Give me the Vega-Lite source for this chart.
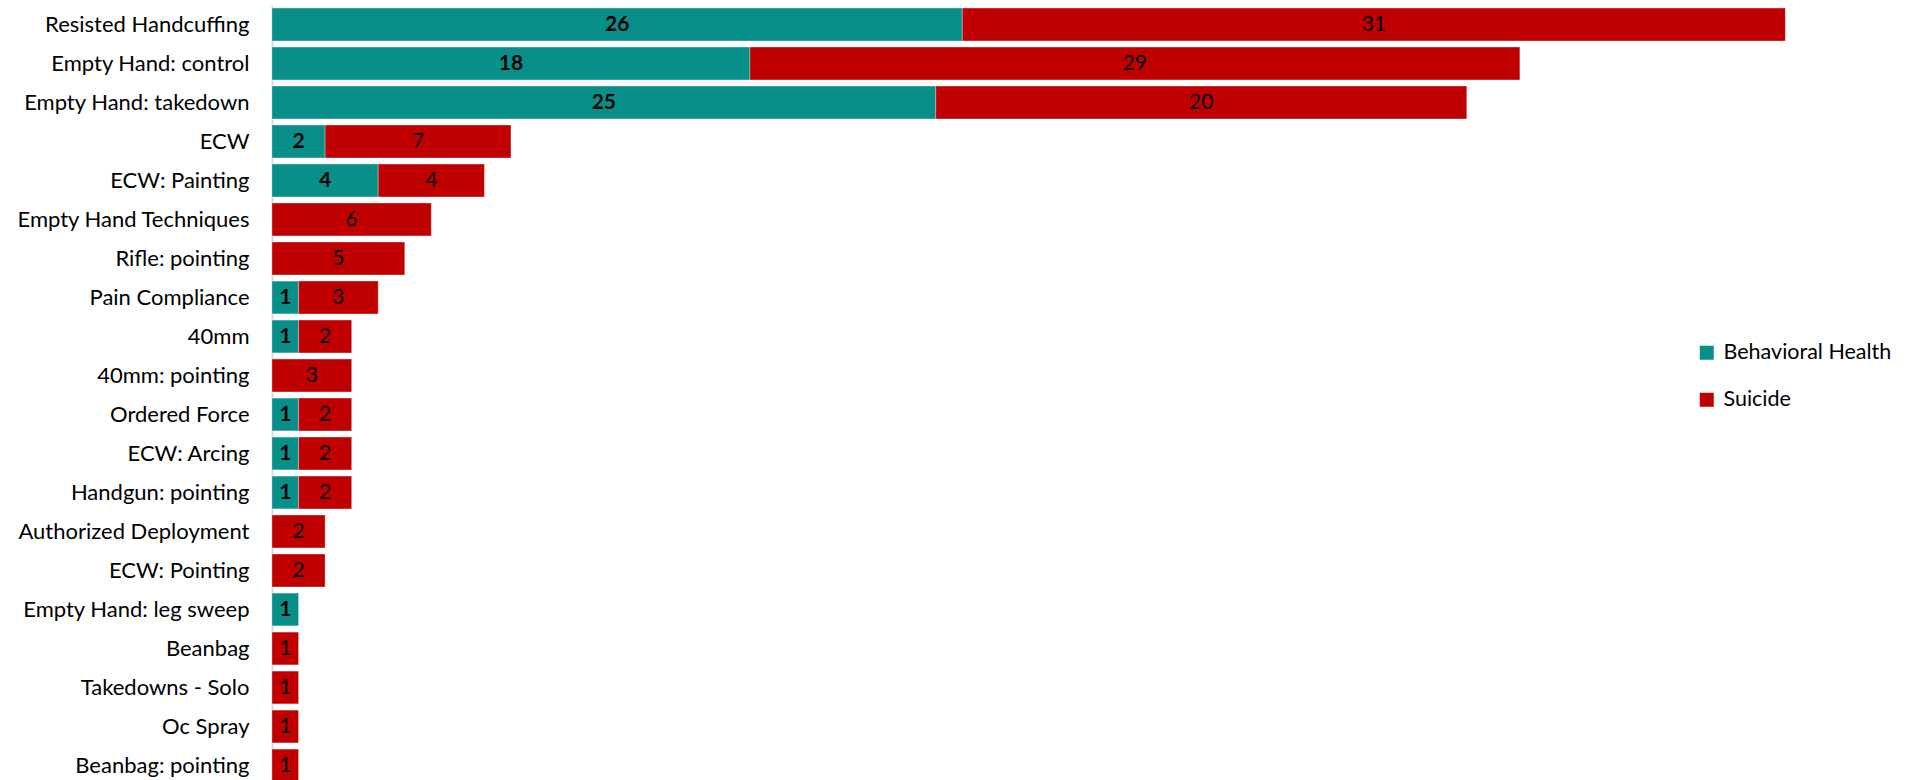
{
  "$schema": "https://vega.github.io/schema/vega-lite/v6.json",
  "autosize": "none",
  "width": 1593,
  "height": 780,
  "padding": {"left": 272, "top": 5, "right": 48, "bottom": 0},
  "background": "white",
  "config": {
    "view": {"stroke": null},
    "font": "Lato",
    "text": {"font": "Lato"}
  },
  "data": {
    "values": [
      {"category": "Resisted Handcuffing", "series": "Behavioral Health", "value": 26},
      {"category": "Resisted Handcuffing", "series": "Suicide", "value": 31},
      {"category": "Empty Hand: control", "series": "Behavioral Health", "value": 18},
      {"category": "Empty Hand: control", "series": "Suicide", "value": 29},
      {"category": "Empty Hand: takedown", "series": "Behavioral Health", "value": 25},
      {"category": "Empty Hand: takedown", "series": "Suicide", "value": 20},
      {"category": "ECW", "series": "Behavioral Health", "value": 2},
      {"category": "ECW", "series": "Suicide", "value": 7},
      {"category": "ECW: Painting", "series": "Behavioral Health", "value": 4},
      {"category": "ECW: Painting", "series": "Suicide", "value": 4},
      {"category": "Empty Hand Techniques", "series": "Suicide", "value": 6},
      {"category": "Rifle: pointing", "series": "Suicide", "value": 5},
      {"category": "Pain Compliance", "series": "Behavioral Health", "value": 1},
      {"category": "Pain Compliance", "series": "Suicide", "value": 3},
      {"category": "40mm", "series": "Behavioral Health", "value": 1},
      {"category": "40mm", "series": "Suicide", "value": 2},
      {"category": "40mm: pointing", "series": "Suicide", "value": 3},
      {"category": "Ordered Force", "series": "Behavioral Health", "value": 1},
      {"category": "Ordered Force", "series": "Suicide", "value": 2},
      {"category": "ECW: Arcing", "series": "Behavioral Health", "value": 1},
      {"category": "ECW: Arcing", "series": "Suicide", "value": 2},
      {"category": "Handgun: pointing", "series": "Behavioral Health", "value": 1},
      {"category": "Handgun: pointing", "series": "Suicide", "value": 2},
      {"category": "Authorized Deployment", "series": "Suicide", "value": 2},
      {"category": "ECW: Pointing", "series": "Suicide", "value": 2},
      {"category": "Empty Hand: leg sweep", "series": "Behavioral Health", "value": 1},
      {"category": "Beanbag", "series": "Suicide", "value": 1},
      {"category": "Takedowns - Solo", "series": "Suicide", "value": 1},
      {"category": "Oc Spray", "series": "Suicide", "value": 1},
      {"category": "Beanbag: pointing", "series": "Suicide", "value": 1}
    ]
  },
  "transform": [
    {"stack": "value", "groupby": ["category"], "sort": [{"field": "series", "order": "ascending"}], "as": ["v0", "v1"]},
    {"calculate": "(datum.v0 + datum.v1) / 2", "as": "mid"}
  ],
  "encoding": {
    "y": {
      "field": "category",
      "type": "nominal",
      "sort": ["Resisted Handcuffing", "Empty Hand: control", "Empty Hand: takedown", "ECW", "ECW: Painting", "Empty Hand Techniques", "Rifle: pointing", "Pain Compliance", "40mm", "40mm: pointing", "Ordered Force", "ECW: Arcing", "Handgun: pointing", "Authorized Deployment", "ECW: Pointing", "Empty Hand: leg sweep", "Beanbag", "Takedowns - Solo", "Oc Spray", "Beanbag: pointing"],
      "scale": {"paddingInner": 0.16, "paddingOuter": 0.08},
      "axis": {
        "title": null,
        "ticks": false,
        "domainColor": "#d9d9d9",
        "domainWidth": 2,
        "labelFontSize": 22,
        "labelColor": "#000000",
        "labelPadding": 23,
        "labelLimit": 0,
        "labelFont": "Lato"
      }
    }
  },
  "layer": [
    {
      "mark": {"type": "bar", "stroke": "#ffffff", "strokeWidth": 0.6, "strokeOpacity": 0.5},
      "encoding": {
        "x": {"field": "v0", "type": "quantitative", "scale": {"domain": [0, 60], "nice": false, "zero": true}, "axis": null},
        "x2": {"field": "v1"},
        "color": {
          "field": "series",
          "type": "nominal",
          "scale": {"domain": ["Behavioral Health", "Suicide"], "range": ["#088F8A", "#C00000"]},
          "legend": {
            "title": null,
            "orient": "none",
            "legendX": 1424,
            "legendY": 337,
            "symbolType": "square",
            "symbolSize": 196,
            "symbolStrokeWidth": 0,
            "labelFontSize": 21.5,
            "labelFont": "Lato",
            "labelColor": "#000000",
            "labelOffset": 6,
            "labelLimit": 0,
            "rowPadding": 24
          }
        }
      }
    },
    {
      "transform": [{"filter": "datum.series === 'Behavioral Health'"}],
      "mark": {"type": "text", "fontSize": 21, "fontWeight": "bold", "color": "#000000", "align": "center", "baseline": "middle"},
      "encoding": {
        "x": {"field": "mid", "type": "quantitative"},
        "text": {"field": "value", "type": "quantitative"}
      }
    },
    {
      "transform": [{"filter": "datum.series === 'Suicide'"}],
      "mark": {"type": "text", "fontSize": 21, "color": "#000000", "align": "center", "baseline": "middle"},
      "encoding": {
        "x": {"field": "mid", "type": "quantitative"},
        "text": {"field": "value", "type": "quantitative"}
      }
    }
  ]
}
